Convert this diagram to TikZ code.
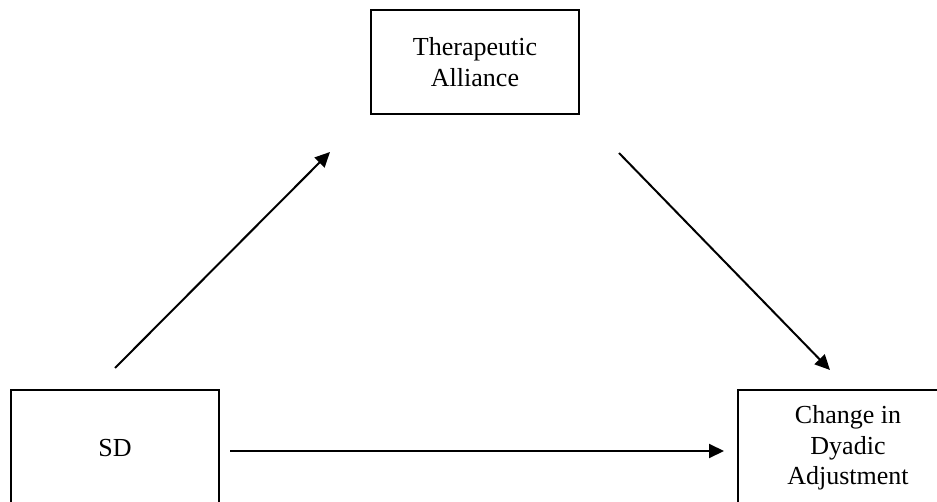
\documentclass[tikz,border=0pt]{standalone}
\usepackage{fontspec}
\setmainfont{Liberation Serif}
\usetikzlibrary{arrows.meta}
\begin{document}
\begin{tikzpicture}[x=1pt,y=-1pt,
  box/.style={draw,line width=2pt,inner sep=0pt,align=center,
    font=\fontsize{26}{30.5}\selectfont},
  conn/.style={line width=2pt,-{Triangle[length=15pt,width=14pt]}}]
\useasboundingbox (0,0) rectangle (937,502);
\node[box,minimum width=208pt,minimum height=104pt] (ta) at (475,62) {Therapeutic\\Alliance};
\node[box,minimum width=208pt,minimum height=116pt] (sd) at (115,448) {SD};
\node[box,minimum width=220pt,minimum height=116pt] (cda) at (848,448) {Change in\\Dyadic\\Adjustment};
\coordinate (a1) at (115,368);
\coordinate (a2) at (330,152);
\coordinate (b1) at (619,153);
\coordinate (b2) at (830,370);
\coordinate (c1) at (230,451);
\coordinate (c2) at (724,451);
\draw[conn] (a1) -- (a2);
\draw[conn] (b1) -- (b2);
\draw[conn] (c1) -- (c2);
\end{tikzpicture}
\end{document}
